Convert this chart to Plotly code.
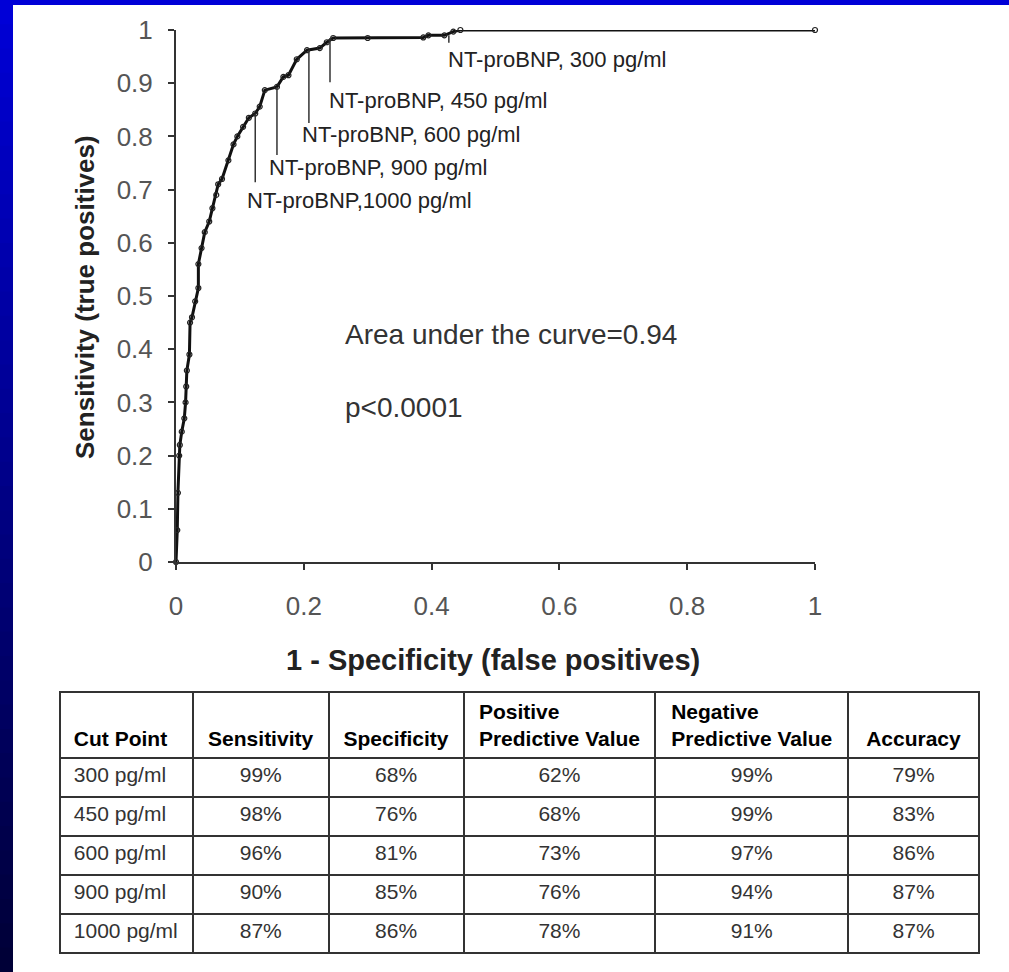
import plotly.graph_objects as go

# ROC curve (1 - specificity, sensitivity)
fpr = [0, 0.002, 0.003, 0.005, 0.006, 0.009, 0.013, 0.015, 0.016, 0.017,
       0.021, 0.022, 0.025, 0.03, 0.035, 0.035, 0.04, 0.045, 0.052, 0.057,
       0.063, 0.066, 0.072, 0.082, 0.09, 0.096, 0.105, 0.114, 0.124, 0.131,
       0.139, 0.158, 0.168, 0.176, 0.189, 0.205, 0.225, 0.236, 0.246, 0.3,
       0.387, 0.395, 0.42, 0.434, 0.445, 1.0]
tpr = [0, 0.06, 0.13, 0.2, 0.22, 0.245, 0.27, 0.3, 0.33, 0.36,
       0.39, 0.45, 0.46, 0.49, 0.515, 0.56, 0.59, 0.62, 0.64, 0.665,
       0.69, 0.71, 0.72, 0.755, 0.785, 0.8, 0.818, 0.835, 0.843, 0.856,
       0.887, 0.893, 0.912, 0.915, 0.945, 0.962, 0.966, 0.977, 0.985, 0.985,
       0.986, 0.99, 0.99, 0.997, 1.0, 1.0]

# cut-point callouts on the curve
callout_labels = ["NT-proBNP, 300 pg/ml", "NT-proBNP, 450 pg/ml", "NT-proBNP, 600 pg/ml",
                  "NT-proBNP, 900 pg/ml", "NT-proBNP,1000 pg/ml"]
callout_x = [0.427, 0.241, 0.208, 0.158, 0.124]
callout_top = [0.99, 0.985, 0.962, 0.893, 0.843]
callout_bottom = [0.976, 0.902, 0.825, 0.765, 0.714]
callout_text_x = [0.4225, 0.236, 0.194, 0.142, 0.108]
callout_text_y = [0.944, 0.868, 0.803, 0.742, 0.68]

# table
cut_points = ["300 pg/ml", "450 pg/ml", "600 pg/ml", "900 pg/ml", "1000 pg/ml"]
sensitivity = ["99%", "98%", "96%", "90%", "87%"]
specificity = ["68%", "76%", "81%", "85%", "86%"]
ppv = ["62%", "68%", "73%", "76%", "78%"]
npv = ["99%", "99%", "97%", "94%", "91%"]
accuracy = ["79%", "83%", "86%", "87%", "87%"]
headers = ["Cut Point", "Sensitivity", "Specificity",
           "Positive<br>Predictive Value", "Negative<br>Predictive Value", "Accuracy"]

W, H = 1009, 972
FONT = "Liberation Sans, Arial, sans-serif"
NB = "\u00a0"


def px(x):
    return x / W


def py(y):
    return 1 - y / H


fig = go.Figure()

fig.add_trace(go.Scatter(
    x=fpr, y=tpr, mode="lines+markers",
    line=dict(color="#111", width=3),
    marker=dict(symbol="circle-open", size=5, color="#222", line=dict(width=1.2)),
    cliponaxis=False, showlegend=False, hoverinfo="skip"
))

# one-line headers sit on the second line of the header row
head_text = [h if "<br>" in h else NB + "<br>" + h for h in headers]
head_text[0] = NB + "<br>" + NB + headers[0]

fig.add_trace(go.Table(
    domain=dict(x=[px(60), px(980)], y=[py(956), py(692)]),
    columnwidth=[133, 136, 135, 192, 193, 131],
    header=dict(
        values=head_text,
        align=["left", "center", "center", "center", "center", "center"],
        font=dict(family=FONT, size=21, color="#000", weight="bold"),
        height=65, line=dict(color="#333", width=2), fill_color="white"
    ),
    cells=dict(
        values=[[NB + c for c in cut_points], sensitivity, specificity, ppv, npv, accuracy],
        align=["left", "center", "center", "center", "center", "center"],
        font=dict(family=FONT, size=21, color="#333"),
        height=39, line=dict(color="#333", width=2), fill_color="white"
    )
))

shapes = []
# blue slide border: top strip and a vertical gradient strip on the left
shapes.append(dict(type="rect", xref="paper", yref="paper", x0=0, x1=1, y0=py(5), y1=1,
                   fillcolor="rgb(0,0,215)", line=dict(width=0), layer="below"))
n = 40
for i in range(n):
    b = int(215 - (215 - 55) * i / (n - 1))
    shapes.append(dict(type="rect", xref="paper", yref="paper",
                       x0=0, x1=px(13), y0=py(min(H, H * (i + 1) / n + 2)), y1=py(H * i / n),
                       fillcolor=f"rgb(0,0,{b})", line=dict(width=0), layer="below"))

for cx, t0, t1 in zip(callout_x, callout_top, callout_bottom):
    shapes.append(dict(type="line", xref="x", yref="y", x0=cx, x1=cx, y0=t0, y1=t1,
                       line=dict(color="#333", width=1.5)))

annotations = []
for lab, tx, ty in zip(callout_labels, callout_text_x, callout_text_y):
    annotations.append(dict(x=tx, y=ty, xref="x", yref="y", text=lab, showarrow=False,
                            xanchor="left", yanchor="middle",
                            font=dict(family=FONT, size=22, color="#222")))

annotations += [
    dict(x=px(343), y=py(334), xref="paper", yref="paper", text="Area under the curve=0.94",
         showarrow=False, xanchor="left", yanchor="middle",
         font=dict(family=FONT, size=28, color="#333")),
    dict(x=px(343), y=py(407), xref="paper", yref="paper", text="p<0.0001",
         showarrow=False, xanchor="left", yanchor="middle",
         font=dict(family=FONT, size=28, color="#333")),
    dict(x=px(493), y=py(660), xref="paper", yref="paper", text="<b>1 - Specificity (false positives)</b>",
         showarrow=False, xanchor="center", yanchor="middle",
         font=dict(family=FONT, size=29, color="#222")),
    dict(x=px(85), y=py(297), xref="paper", yref="paper", text="<b>Sensitivity (true positives)</b>",
         showarrow=False, xanchor="center", yanchor="middle", textangle=-90,
         font=dict(family=FONT, size=26, color="#222")),
]

fig.update_layout(
    width=W, height=H, autosize=False, template="none",
    margin=dict(l=0, r=0, t=0, b=0, pad=0, autoexpand=False),
    paper_bgcolor="white", plot_bgcolor="white",
    shapes=shapes, annotations=annotations,
    xaxis=dict(domain=[px(176), px(815)], range=[0, 1], dtick=0.2, showgrid=False, zeroline=False,
               automargin=False,
               showline=True, linecolor="#333", linewidth=2, ticks="outside", ticklen=6,
               tickcolor="#333", tickwidth=1.5, ticklabelstandoff=14,
               tickfont=dict(family=FONT, size=26, color="#555")),
    yaxis=dict(domain=[py(562), py(30)], range=[0, 1], dtick=0.1, showgrid=False, zeroline=False,
               automargin=False,
               showline=True, linecolor="#333", linewidth=2, ticks="outside", ticklen=6,
               tickcolor="#333", tickwidth=1.5, ticklabelstandoff=10,
               tickfont=dict(family=FONT, size=26, color="#555")),
)

fig.write_html("out.html", config=dict(displayModeBar=False),
               post_script="document.body.style.margin='0px';")
